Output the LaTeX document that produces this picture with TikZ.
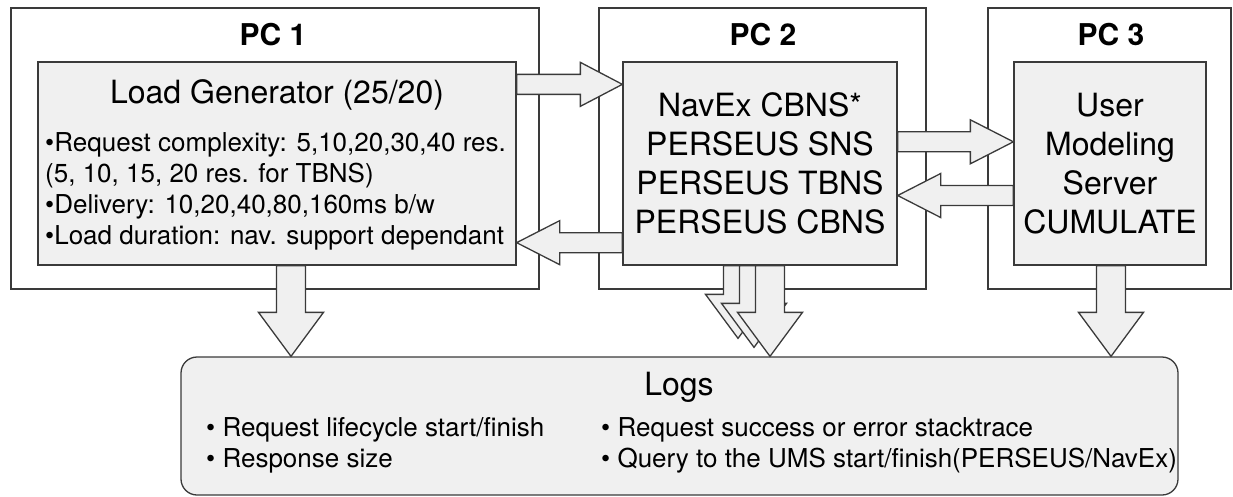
\documentclass[tikz,border=0pt]{standalone}
\usepackage{fontspec}
\setmainfont{TeX Gyre Heros}
\usepackage{tikz}
\usetikzlibrary{calc}
\definecolor{boxfill}{HTML}{F0F0F0}
\definecolor{boxline}{HTML}{3A3A3A}
\tikzset{
    pcbox/.style={rectangle,draw=boxline,line width=1.3pt,fill=white,inner sep=0pt},
    unitbox/.style={rectangle,draw=boxline,line width=1.3pt,fill=boxfill,inner sep=0pt},
    pclabel/.style={font=\fontsize{30}{36}\selectfont\bfseries,inner sep=0pt},
    bigtext/.style={font=\fontsize{32}{39}\selectfont,align=center,inner sep=0pt},
    smalltext/.style={font=\fontsize{26}{31}\selectfont,align=left,inner sep=0pt},
    fatline/.style={draw=boxline,line width=1.3pt,fill=boxfill,line join=miter}
}
% block arrow from #1 to #2, half widths of shaft (#3) and head (#4), head length (#5)
\newcommand{\fatarrow}[5]{%
    \coordinate (fa-head) at ($(#2)!#5!(#1)$);
    \draw[fatline] ($(#1)!#3!90:(#2)$) -- ($(fa-head)!#3!90:(#2)$)
        -- ($(fa-head)!#4!90:(#2)$) -- (#2) -- ($(fa-head)!#4!-90:(#2)$)
        -- ($(fa-head)!#3!-90:(#2)$) -- ($(#1)!#3!-90:(#2)$) -- cycle;
}

\begin{document}
\begin{tikzpicture}[x=1pt,y=-1pt]
    \useasboundingbox (0,0) rectangle (1233,496);

    \node[pcbox, minimum width=528pt, minimum height=281pt] (pc1) at (275,148.5) {};
    \node[pcbox, minimum width=327pt, minimum height=281pt] (pc2) at (762.5,148.5) {};
    \node[pcbox, minimum width=243pt, minimum height=281pt] (pc3) at (1109.5,148.5) {};
    \node[pclabel] (lbl1) at ($(pc1.north)+(-2,27)$) {PC 1};
    \node[pclabel] (lbl2) at ($(pc2.north)+(0.5,27)$) {PC 2};
    \node[pclabel] (lbl3) at ($(pc3.north)+(1.5,27)$) {PC 3};

    \node[unitbox, minimum width=478pt, minimum height=203pt] (gen) at (277,163.5) {};
    \node[unitbox, minimum width=274pt, minimum height=203pt] (nav) at (760,163.5) {};
    \node[unitbox, minimum width=192pt, minimum height=203pt] (ums) at (1110,163.5) {};
    \node[unitbox, rounded corners=16pt, minimum width=997pt, minimum height=138pt] (logs) at (679.5,426) {};

    \node[bigtext] (gentitle) at (277,95) {Load Generator (25/20)};
    \node[smalltext, anchor=west] (genlist) at (45,191.5) {%
        •Request complexity: 5,10,20,30,40 res.\\
        (5, 10, 15, 20 res. for TBNS)\\
        •Delivery: 10,20,40,80,160ms b/w\\
        •Load duration: nav. support dependant};
    \node[bigtext] (navtext) at (nav.center) {NavEx CBNS*\\PERSEUS SNS\\PERSEUS TBNS\\PERSEUS CBNS};
    \node[bigtext] (umstext) at (ums.center) {User\\Modeling\\Server\\CUMULATE};
    \node[bigtext] (logstitle) at (679,387) {Logs};
    \node[smalltext, anchor=west] (logsleft) at (206,445.5) {%
        • Request lifecycle start/finish\\
        • Response size};
    \node[smalltext, anchor=west] (logsright) at (601,445.5) {%
        • Request success or error stacktrace\\
        • Query to the UMS start/finish(PERSEUS/NavEx)};

    \coordinate (a1s) at ($(gen.north east)+(0,23)$);
    \coordinate (a1e) at (a1s -| nav.west);
    \coordinate (a2s) at ($(nav.south west)+(0,-23)$);
    \coordinate (a2e) at (a2s -| gen.east);
    \coordinate (a3s) at ($(nav.east)+(0,-21.7)$);
    \coordinate (a3e) at (a3s -| ums.west);
    \coordinate (a4s) at ($(ums.west)+(0,32)$);
    \coordinate (a4e) at (a4s -| nav.east);
    \fatarrow{a1s}{a1e}{10pt}{22pt}{42pt}
    \fatarrow{a2s}{a2e}{10pt}{22pt}{43pt}
    \fatarrow{a3s}{a3e}{10pt}{22pt}{43pt}
    \fatarrow{a4s}{a4e}{10pt}{22pt}{43pt}

    \coordinate (a5s) at ($(gen.south)+(14,0)$);
    \coordinate (a5e) at (a5s |- logs.north);
    \coordinate (a6s) at ($(nav.south)+(10,0)$);
    \coordinate (a6e) at (a6s |- logs.north);
    \coordinate (a6bs) at ($(nav.south)+(-22,0)$);
    \coordinate (a6be) at ($(a6e)+(-32,-18)$);
    \coordinate (a6ms) at ($(nav.south)+(-6,0)$);
    \coordinate (a6me) at ($(a6e)+(-16,-9)$);
    \coordinate (a7s) at ($(ums.south)+(1,0)$);
    \coordinate (a7e) at (a7s |- logs.north);
    \fatarrow{a5s}{a5e}{14.5pt}{32.5pt}{44pt}
    \fatarrow{a6bs}{a6be}{14.5pt}{32.5pt}{44pt}
    \fatarrow{a6ms}{a6me}{14.5pt}{32.5pt}{44pt}
    \fatarrow{a6s}{a6e}{14.5pt}{32.5pt}{44pt}
    \fatarrow{a7s}{a7e}{14.5pt}{32.5pt}{44pt}
\end{tikzpicture}
\end{document}
